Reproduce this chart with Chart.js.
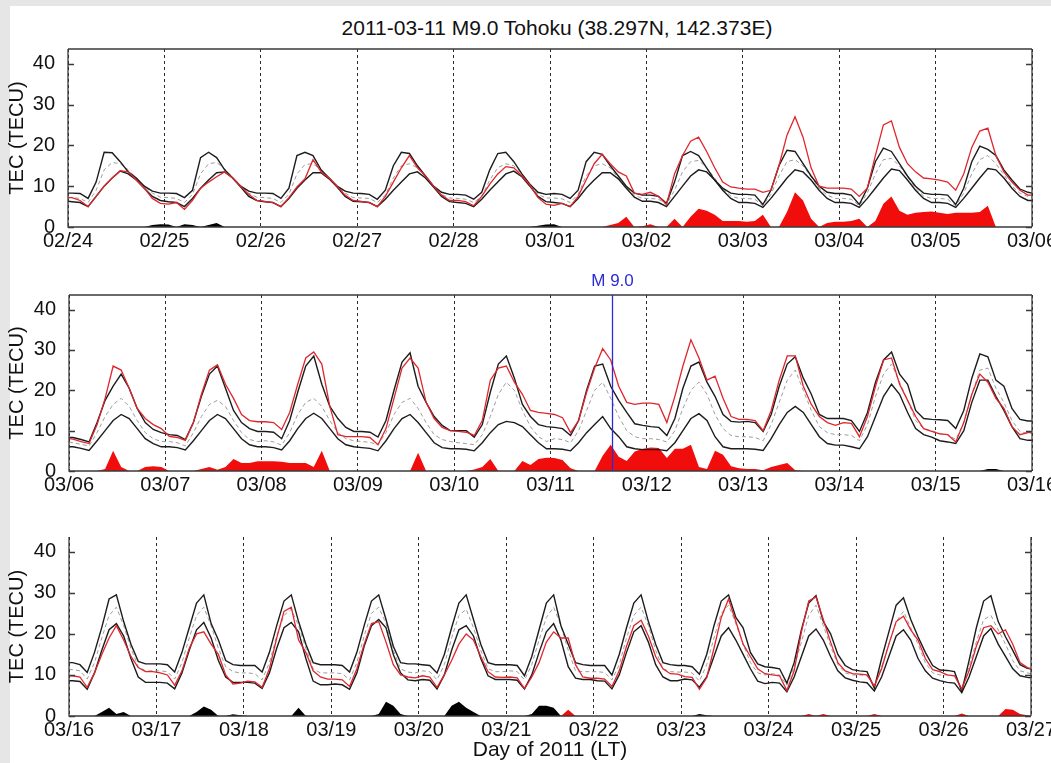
<!DOCTYPE html>
<html>
<head>
<meta charset="utf-8">
<title>Tohoku TEC</title>
<script src="https://cdn.jsdelivr.net/npm/chart.js"></script>
<style>
  html, body { margin: 0; padding: 0; overflow: hidden; }
  body { width: 1051px; height: 763px; background: #e6e6e6; position: relative; font-family: "Liberation Sans", Arial, sans-serif; }
  #sheet { position: absolute; left: 10px; top: 6px; width: 1041px; height: 757px; background: #fff; }
  #title { position: absolute; left: 0; top: 16px; width: 1114px; text-align: center; font-size: 21px; line-height: 24px; color: #111; }
  .panel { position: absolute; left: 0; }
</style>
</head>
<body>
<div id="sheet"></div>
<div id="title">2011-03-11 M9.0 Tohoku (38.297N, 142.373E)</div>
<div class="panel" style="top:0px"><canvas id="c1" width="1100" height="257"></canvas></div>
<div class="panel" style="top:270px"><canvas id="c2" width="1100" height="231"></canvas></div>
<div class="panel" style="top:520px"><canvas id="c3" width="1100" height="243"></canvas></div>
<script>
// day labels of each row
const days1 = ['02/24', '02/25', '02/26', '02/27', '02/28', '03/01', '03/02', '03/03', '03/04', '03/05', '03/06'];
const days2 = ['03/06', '03/07', '03/08', '03/09', '03/10', '03/11', '03/12', '03/13', '03/14', '03/15', '03/16'];
const days3 = ['03/16', '03/17', '03/18', '03/19', '03/20', '03/21', '03/22', '03/23', '03/24', '03/25', '03/26', '03/27'];
const yTicks = [0, 10, 20, 30, 40];
const yMax = 43.6;

// main shock, in days after 03/06 00 LT
const quakeDay = 5.635;
const quakeLabel = 'M 9.0';

// TEC samples: 00 LT, then every odd hour (01, 03 ... 23) of each day, then the closing 24 LT
// up = upper bound, lo = lower bound, med = median, tec = observed

const up1 = [8.3,
  8.3, 8.2, 7.0, 11.0, 18.3, 18.2, 16.0, 13.5, 12.0, 10.0, 8.8, 8.3,
  8.3, 8.2, 7.2, 9.0, 17.0, 18.3, 17.0, 14.0, 12.0, 10.0, 8.8, 8.3,
  8.3, 8.2, 7.0, 9.5, 17.5, 18.3, 17.5, 14.0, 12.0, 10.0, 8.8, 8.3,
  8.2, 8.0, 6.8, 9.0, 15.0, 18.3, 18.0, 15.0, 12.5, 10.0, 8.5, 8.0,
  8.0, 7.8, 6.8, 8.5, 14.0, 18.0, 18.3, 16.0, 13.0, 10.5, 8.5, 8.0,
  8.2, 8.0, 7.0, 9.0, 16.0, 18.3, 17.8, 15.0, 12.5, 10.0, 8.3, 7.8,
  7.8, 7.5, 5.8, 11.0, 17.5, 18.5, 17.5, 14.5, 11.5, 9.5, 8.3, 8.0,
  8.0, 7.8, 5.5, 9.0, 15.0, 18.8, 18.5, 15.5, 12.5, 10.0, 8.5, 8.2,
  8.2, 7.8, 5.5, 9.5, 16.0, 19.3, 18.5, 15.5, 12.5, 10.0, 8.3, 8.0,
  8.0, 7.8, 5.5, 9.5, 16.0, 19.8, 19.0, 17.5, 14.0, 11.5, 9.3, 8.5,
  8.3];
const lo1 = [6.3,
  6.2, 6.0, 5.0, 7.5, 10.0, 12.0, 13.7, 13.0, 11.5, 9.5, 7.5, 6.5,
  6.2, 6.0, 5.0, 7.0, 9.5, 11.5, 13.3, 13.5, 12.0, 9.8, 7.5, 6.5,
  6.2, 6.0, 5.0, 7.0, 9.5, 11.5, 13.3, 13.3, 11.8, 9.8, 7.5, 6.3,
  6.2, 6.0, 5.0, 6.8, 9.0, 11.0, 13.0, 13.5, 12.0, 9.8, 7.5, 6.2,
  6.0, 5.8, 5.0, 6.8, 9.0, 11.0, 13.0, 13.7, 12.3, 10.0, 7.5, 6.2,
  6.0, 5.8, 5.0, 7.0, 9.5, 11.5, 13.3, 13.3, 11.8, 9.5, 7.3, 6.3,
  6.3, 6.0, 5.0, 7.5, 10.0, 12.5, 14.0, 13.5, 11.5, 9.0, 7.0, 6.0,
  6.0, 5.8, 4.8, 7.0, 9.5, 12.0, 14.0, 13.5, 11.5, 9.0, 7.0, 6.0,
  6.0, 5.8, 4.8, 7.0, 9.5, 12.0, 14.2, 13.8, 11.5, 9.0, 7.0, 6.0,
  6.0, 5.8, 4.8, 7.0, 9.5, 12.0, 14.3, 14.0, 12.0, 9.5, 7.5, 6.5,
  6.5];
const med1 = [7.2,
  7.2, 7.0, 6.0, 9.0, 14.0, 15.8, 15.5, 14.0, 12.0, 10.0, 8.3, 7.3,
  7.2, 7.0, 6.0, 8.0, 13.0, 15.5, 15.8, 14.3, 12.0, 10.0, 8.3, 7.3,
  7.2, 7.0, 6.0, 8.0, 13.0, 15.3, 15.5, 14.0, 12.0, 10.0, 8.3, 7.2,
  7.1, 7.0, 6.0, 7.8, 12.0, 15.0, 15.5, 14.5, 12.3, 10.0, 8.0, 7.1,
  7.0, 6.8, 6.0, 7.5, 11.5, 14.5, 15.5, 15.0, 12.8, 10.2, 8.0, 7.1,
  7.1, 6.9, 6.0, 8.0, 12.5, 15.0, 15.5, 14.5, 12.0, 9.8, 7.8, 7.0,
  7.0, 6.8, 5.5, 9.0, 13.5, 16.0, 16.3, 14.5, 12.0, 9.3, 7.6, 7.0,
  7.0, 6.8, 5.2, 8.0, 12.5, 16.0, 16.5, 15.0, 12.3, 9.5, 7.8, 7.0,
  7.0, 6.8, 5.2, 8.3, 13.0, 16.5, 16.8, 15.0, 12.3, 9.5, 7.6, 7.0,
  7.0, 6.8, 5.2, 8.3, 13.0, 16.5, 17.5, 15.5, 12.8, 10.0, 8.3, 7.5,
  7.3];
const tec1 = [7.2,
  7.2, 6.5, 5.0, 7.5, 10.0, 12.0, 13.8, 13.5, 11.5, 9.5, 7.0, 5.8,
  5.6, 6.0, 4.3, 6.5, 9.5, 11.0, 12.3, 13.5, 12.0, 10.0, 8.0, 6.5,
  6.3, 6.0, 5.0, 7.2, 9.8, 11.8, 16.5, 13.5, 12.0, 10.0, 7.8, 6.5,
  6.3, 6.0, 5.0, 7.5, 11.0, 14.5, 17.5, 14.5, 12.5, 10.0, 7.8, 6.5,
  6.5, 6.2, 5.2, 7.5, 10.5, 13.0, 14.8, 14.5, 12.5, 10.3, 7.2, 5.6,
  5.3, 5.8, 5.0, 7.5, 11.5, 15.5, 17.8, 15.5, 13.5, 12.5, 8.3, 8.0,
  8.5, 7.5, 5.5, 13.0, 17.5, 21.0, 22.0, 18.5, 14.5, 11.0, 9.8, 9.5,
  9.3, 9.3, 8.5, 9.0, 15.0, 22.5, 27.0, 22.0, 14.5, 10.0, 9.5, 9.5,
  9.5, 9.3, 7.5, 9.5, 17.5, 25.0, 26.0, 19.5, 15.5, 13.5, 12.0, 11.8,
  11.5, 11.0, 9.0, 13.0, 19.5, 23.5, 24.2, 17.5, 13.5, 11.0, 9.0, 7.8,
  7.8];

const up2 = [8.3,
  8.3, 7.8, 7.2, 12.0, 17.5, 21.0, 24.0, 20.5, 15.5, 12.0, 10.3, 9.5,
  9.0, 8.8, 7.8, 12.0, 18.5, 24.0, 26.0, 20.5, 15.0, 12.0, 10.5, 9.8,
  9.8, 9.6, 8.0, 12.5, 19.5, 26.0, 28.5, 21.5, 16.0, 13.0, 10.8, 9.8,
  9.8, 9.6, 8.4, 12.5, 20.0, 27.0, 29.3, 21.0, 17.0, 13.5, 11.3, 10.0,
  10.0, 10.0, 8.4, 11.5, 19.5, 26.5, 28.5, 23.0, 16.5, 13.5, 11.5, 11.0,
  10.8, 10.5, 8.8, 12.5, 20.0, 26.0, 26.5, 21.0, 17.5, 14.5, 11.7, 11.3,
  11.0, 10.8, 8.8, 13.0, 20.5, 26.0, 27.0, 22.0, 18.5, 14.0, 12.3, 12.1,
  12.3, 12.0, 9.8, 14.0, 21.0, 26.5, 28.3, 23.0, 19.0, 14.0, 13.0, 13.0,
  13.0, 12.5, 9.8, 14.5, 22.0, 27.5, 29.5, 24.0, 21.5, 15.0, 13.0, 12.8,
  12.7, 12.5, 10.5, 15.0, 23.0, 29.0, 28.3, 22.5, 21.0, 15.5, 12.8, 12.4,
  12.4];
const lo2 = [6.0,
  6.0, 5.6, 5.1, 7.5, 10.0, 12.5, 14.0, 13.0, 10.5, 8.0, 6.8, 6.0,
  6.0, 5.8, 5.2, 7.5, 10.0, 12.5, 14.0, 13.0, 10.5, 8.0, 6.5, 6.0,
  6.0, 5.8, 5.2, 7.5, 10.5, 13.0, 14.3, 13.0, 10.5, 8.0, 6.5, 6.0,
  5.8, 5.6, 5.0, 7.5, 10.5, 13.0, 14.0, 12.0, 9.5, 7.0, 5.8, 5.5,
  5.5, 5.4, 5.0, 7.0, 9.5, 11.5, 12.3, 12.0, 11.0, 9.0, 7.0, 5.5,
  5.5, 5.4, 5.0, 7.0, 9.5, 11.5, 13.5, 10.5, 8.5, 6.0, 5.5, 5.3,
  5.3, 5.3, 5.0, 7.0, 10.0, 13.0, 14.2, 12.5, 8.5, 6.0, 5.5, 5.5,
  5.5, 5.4, 5.1, 8.0, 11.5, 14.5, 16.0, 14.5, 11.5, 8.5, 6.8, 6.4,
  6.4, 6.0, 5.5, 8.5, 13.5, 18.5, 21.5, 19.0, 14.5, 10.5, 9.0, 8.4,
  7.5, 7.2, 6.8, 10.0, 17.0, 22.5, 22.5, 18.5, 15.0, 11.0, 8.0, 7.6,
  7.6];
const med2 = [7.2,
  7.0, 6.6, 6.2, 9.5, 13.5, 16.5, 18.0, 16.0, 12.5, 9.5, 8.0, 7.3,
  7.3, 7.0, 6.2, 9.5, 13.5, 16.5, 17.5, 16.0, 12.5, 9.5, 7.8, 7.3,
  7.5, 7.2, 6.4, 9.5, 14.0, 17.0, 18.0, 16.0, 12.5, 9.5, 8.0, 7.5,
  7.3, 7.1, 6.5, 9.5, 14.0, 17.0, 18.0, 15.5, 12.0, 9.0, 7.8, 7.3,
  7.0, 6.8, 6.5, 9.0, 13.5, 19.0, 22.0, 20.0, 15.0, 11.0, 8.5, 7.3,
  8.0, 7.8, 7.0, 10.0, 15.0, 20.0, 22.0, 18.0, 13.5, 10.0, 8.5, 8.0,
  8.0, 7.8, 7.2, 10.0, 15.5, 20.0, 22.0, 19.0, 14.0, 10.5, 8.8, 8.5,
  8.5, 8.3, 7.5, 11.5, 17.0, 22.5, 25.0, 20.0, 15.0, 11.0, 9.5, 9.0,
  9.0, 8.8, 7.5, 11.5, 18.5, 24.0, 26.5, 22.0, 17.5, 12.5, 10.5, 10.0,
  9.3, 9.0, 7.8, 12.0, 19.0, 25.0, 25.5, 20.5, 17.0, 12.5, 9.8, 9.3,
  9.3];
const tec2 = [8.0,
  7.9, 7.3, 6.8, 11.5, 18.0, 26.0, 25.0, 20.5, 15.5, 13.0, 11.5, 10.5,
  8.6, 8.3, 7.6, 12.0, 19.0, 25.0, 26.3, 21.5, 18.0, 14.0, 12.5, 12.2,
  12.2, 12.0, 10.3, 14.5, 21.5, 28.0, 29.5, 26.5, 16.0, 9.0, 8.5, 8.5,
  8.5, 8.3, 6.5, 10.5, 18.0, 25.5, 28.0, 25.5, 17.0, 13.0, 10.8, 10.0,
  9.8, 9.6, 8.8, 12.5, 22.5, 25.5, 26.0, 22.0, 19.0, 15.0, 14.5, 14.3,
  14.0, 13.2, 9.5, 12.5, 19.5, 25.5, 30.3, 27.5, 21.0, 17.0, 16.5, 16.8,
  16.8, 16.5, 12.0, 18.5, 26.0, 32.5, 28.0, 22.5, 23.5, 18.0, 13.5, 12.8,
  12.8, 12.5, 10.0, 15.0, 22.5, 28.5, 28.5, 21.0, 16.5, 13.5, 12.0, 11.3,
  12.0, 11.8, 8.5, 13.5, 21.0, 27.5, 28.0, 21.5, 17.5, 13.5, 10.5, 9.8,
  9.2, 9.0, 7.2, 12.0, 19.0, 24.0, 22.0, 18.0, 15.5, 11.0, 9.0, 9.5,
  9.7];

const up3 = [13.0,
  13.0, 12.5, 10.6, 15.5, 21.6, 28.5, 29.5, 23.0, 17.5, 13.3, 12.7, 12.7,
  12.7, 12.5, 10.7, 15.5, 21.5, 27.5, 29.5, 22.5, 18.5, 13.5, 12.5, 12.3,
  12.3, 12.3, 10.7, 15.5, 22.0, 28.0, 29.5, 23.0, 17.5, 13.0, 12.5, 12.5,
  12.5, 12.3, 10.7, 15.5, 22.0, 28.0, 29.5, 23.5, 17.0, 13.0, 12.7, 12.7,
  12.5, 12.3, 10.5, 15.0, 21.5, 27.5, 29.5, 23.5, 17.5, 13.0, 12.5, 12.5,
  12.5, 12.3, 9.8, 14.5, 21.0, 27.5, 29.5, 22.0, 17.5, 13.0, 12.5, 12.3,
  12.3, 12.3, 10.0, 15.0, 21.5, 27.5, 29.5, 23.0, 17.5, 13.0, 12.5, 12.3,
  12.3, 12.0, 10.2, 15.0, 22.0, 28.0, 29.5, 24.0, 21.5, 15.5, 12.7, 12.0,
  11.8, 11.5, 8.0, 13.0, 21.0, 27.5, 29.3, 23.0, 20.0, 15.0, 12.3, 11.3,
  11.0, 10.8, 6.8, 14.0, 20.5, 27.0, 28.8, 23.5, 19.3, 15.5, 12.3, 11.2,
  11.1, 10.8, 6.0, 13.5, 21.5, 28.0, 29.3, 23.0, 19.3, 16.0, 12.5, 11.6,
  11.5];
const lo3 = [8.6,
  8.6, 8.4, 6.5, 10.5, 16.0, 21.0, 22.5, 19.5, 14.0, 9.5, 8.2, 8.2,
  8.2, 8.0, 6.6, 10.5, 16.0, 21.0, 22.8, 19.0, 13.5, 9.5, 8.2, 8.2,
  8.2, 8.0, 6.7, 10.5, 16.5, 21.5, 22.8, 20.5, 14.0, 8.5, 7.6, 7.6,
  7.8, 7.6, 6.5, 10.5, 17.0, 22.0, 23.5, 21.5, 15.0, 10.5, 8.8, 8.6,
  8.9, 8.7, 6.6, 10.0, 16.0, 21.0, 22.0, 19.5, 14.0, 9.8, 8.9, 8.9,
  8.9, 8.7, 6.6, 10.0, 15.5, 20.5, 22.5, 18.5, 12.0, 9.2, 8.9, 8.9,
  8.6, 8.5, 6.6, 10.0, 15.5, 20.5, 22.0, 18.0, 12.5, 9.5, 8.6, 8.6,
  9.0, 8.8, 7.0, 9.5, 14.5, 19.5, 21.5, 18.5, 15.0, 11.5, 8.5, 7.9,
  8.2, 8.0, 5.9, 9.5, 14.5, 19.5, 21.2, 18.5, 14.5, 11.0, 9.3, 8.7,
  8.3, 8.1, 6.1, 9.5, 14.5, 19.5, 21.0, 18.5, 14.0, 11.0, 9.2, 8.6,
  8.2, 8.0, 5.7, 9.5, 14.5, 19.5, 21.3, 17.5, 14.5, 11.5, 9.8, 9.4,
  9.3];
const med3 = [11.3,
  11.3, 11.0, 9.0, 13.0, 19.0, 24.5, 26.5, 22.0, 16.5, 12.0, 11.0, 11.0,
  11.0, 10.8, 9.0, 13.0, 19.0, 24.5, 26.5, 22.0, 16.5, 12.0, 10.8, 10.5,
  10.5, 10.3, 8.8, 13.0, 19.5, 24.5, 26.0, 22.0, 16.5, 11.5, 10.5, 10.5,
  10.5, 10.3, 8.8, 13.0, 19.5, 25.0, 26.5, 22.5, 16.0, 11.5, 10.7, 10.5,
  11.0, 10.8, 8.8, 12.5, 19.0, 24.5, 26.0, 21.5, 16.0, 11.5, 10.8, 10.8,
  11.0, 10.8, 8.8, 12.5, 18.5, 24.0, 26.5, 22.0, 16.0, 11.0, 10.8, 10.8,
  10.8, 10.6, 8.8, 12.5, 19.0, 24.5, 26.5, 22.0, 16.0, 11.5, 10.8, 10.7,
  10.7, 10.5, 8.5, 12.5, 19.0, 25.0, 27.0, 22.5, 17.5, 13.0, 10.5, 10.0,
  10.3, 10.0, 7.5, 12.0, 18.0, 24.5, 27.0, 22.0, 17.0, 12.5, 10.5, 10.0,
  10.0, 9.8, 7.2, 12.0, 17.5, 23.0, 25.5, 21.5, 17.5, 13.0, 10.5, 10.0,
  10.0, 9.8, 6.8, 12.0, 18.0, 23.5, 24.5, 21.0, 17.5, 13.5, 11.0, 10.5,
  10.3];
const tec3 = [9.8,
  9.8, 9.5, 7.0, 10.5, 15.0, 19.0, 22.0, 18.5, 14.5, 11.8, 10.8, 10.8,
  10.5, 10.0, 7.5, 11.0, 16.5, 20.0, 20.5, 17.5, 15.0, 10.0, 7.8, 8.0,
  8.5, 8.3, 7.0, 11.5, 19.0, 25.5, 26.5, 18.5, 15.5, 11.0, 9.5, 9.0,
  9.0, 8.8, 7.2, 11.5, 17.5, 22.5, 23.0, 18.0, 12.5, 10.0, 9.5, 9.3,
  9.8, 9.5, 7.0, 10.0, 13.5, 17.5, 20.0, 18.5, 14.5, 10.8, 9.5, 9.4,
  9.5, 9.3, 6.7, 9.5, 13.0, 18.0, 20.5, 19.0, 19.0, 12.5, 9.5, 9.2,
  9.2, 9.0, 7.2, 11.0, 17.0, 22.0, 23.3, 19.5, 14.5, 11.5, 10.3, 10.2,
  9.6, 9.4, 6.5, 9.3, 16.5, 24.0, 28.5, 23.0, 17.5, 14.5, 11.5, 10.3,
  10.0, 9.8, 6.2, 11.0, 20.5, 28.0, 29.0, 23.5, 18.0, 13.0, 11.0, 10.3,
  10.2, 10.0, 7.3, 11.5, 17.5, 23.0, 24.3, 21.0, 18.5, 14.0, 11.3, 10.8,
  10.0, 9.8, 6.6, 11.0, 17.0, 21.5, 22.0, 20.0, 21.0, 17.5, 13.0, 11.8,
  11.5];

const FONT = '"Liberation Sans", Arial, sans-serif';
const INK = '#111';

// box, plus the little inward ticks on both sides
const framePlugin = {
  id: 'frame',
  afterDatasetsDraw(chart, args, opts) {
    const { ctx, chartArea: a, scales: { y } } = chart;
    ctx.save();
    ctx.strokeStyle = '#3a3a3a';
    ctx.lineWidth = 1.3;
    ctx.beginPath();
    if (opts.top) {
      ctx.moveTo(a.left, a.top);
      ctx.lineTo(a.right, a.top);
    }
    ctx.moveTo(a.left, a.top);
    ctx.lineTo(a.left, a.bottom);
    ctx.lineTo(a.right, a.bottom);
    ctx.moveTo(a.right, a.top);
    ctx.lineTo(a.right, a.bottom);
    yTicks.forEach(v => {
      const py = Math.round(y.getPixelForValue(v)) + 0.5;
      ctx.moveTo(a.left, py);
      ctx.lineTo(a.left + 6, py);
      ctx.moveTo(a.right, py);
      ctx.lineTo(a.right - 6, py);
    });
    ctx.stroke();
    ctx.restore();
  }
};

// event marker for the main shock
const quakePlugin = {
  id: 'quake',
  afterDatasetsDraw(chart) {
    const { ctx, chartArea: a, scales: { x } } = chart;
    const px = Math.round(x.getPixelForValue(quakeDay)) + 0.5;
    ctx.save();
    ctx.strokeStyle = '#2b2bd8';
    ctx.lineWidth = 1.3;
    ctx.beginPath();
    ctx.moveTo(px, a.top);
    ctx.lineTo(px, a.bottom);
    ctx.stroke();
    ctx.fillStyle = '#2b2bd8';
    ctx.font = '17px ' + FONT;
    ctx.textAlign = 'center';
    ctx.textBaseline = 'bottom';
    ctx.fillText(quakeLabel, px, a.top - 5);
    ctx.restore();
  }
};

function makePanel(id, days, up, lo, med, tec, cfg) {
  const n = days.length - 1;
  const hours = [0, ...Array.from({ length: n * 12 }, (_, i) => 2 * i + 1), n * 24];
  const pts = vals => vals.map((v, i) => ({ x: hours[i] / 24, y: v }));
  // anomaly outside the bounds
  const above = tec.map((v, i) => Math.max(0, v - up[i]));
  const below = tec.map((v, i) => Math.max(0, lo[i] - v));

  return new Chart(document.getElementById(id), {
    type: 'line',
    data: {
      datasets: [
        { data: pts(tec), borderColor: '#e0262c', borderWidth: 1.3 },
        { data: pts(up), borderColor: '#1c1c1c', borderWidth: 1.4 },
        { data: pts(lo), borderColor: '#1c1c1c', borderWidth: 1.4 },
        { data: pts(med), borderColor: '#9c9c9c', borderWidth: 1, borderDash: [4, 3] },
        { data: pts(above), borderWidth: 0, borderColor: 'rgba(0,0,0,0)', backgroundColor: '#f20d0d', fill: 'origin' },
        { data: pts(below), borderWidth: 0, borderColor: 'rgba(0,0,0,0)', backgroundColor: '#000000', fill: 'origin' }
      ]
    },
    options: {
      responsive: false,
      animation: false,
      events: [],
      layout: { padding: { left: 0, right: 1100 - cfg.right, top: cfg.top, bottom: 0 } },
      elements: { point: { radius: 0 }, line: { tension: 0 } },
      plugins: {
        legend: { display: false },
        tooltip: { enabled: false },
        frame: { top: cfg.box }
      },
      scales: {
        x: {
          type: 'linear',
          min: 0,
          max: n,
          afterBuildTicks: s => { s.ticks = days.map((_, i) => ({ value: i })); },
          afterFit: s => { s.height = cfg.xh; s.paddingLeft = 0; s.paddingRight = 0; },
          ticks: {
            callback: v => days[v],
            font: { family: FONT, size: 20 },
            color: INK,
            padding: 2,
            maxRotation: 0,
            autoSkip: false
          },
          grid: { color: '#2a2a2a', lineWidth: 1, drawTicks: false },
          border: { display: false, dash: [3, 3] },
          title: {
            display: !!cfg.xTitle,
            text: cfg.xTitle || '',
            font: { family: FONT, size: 21 },
            color: INK,
            padding: { top: 0, bottom: 0 }
          }
        },
        y: {
          min: 0,
          max: yMax,
          afterBuildTicks: s => { s.ticks = yTicks.map(v => ({ value: v })); },
          afterFit: s => { s.width = cfg.left; },
          ticks: { font: { family: FONT, size: 20 }, color: INK, padding: 5 },
          grid: { display: false },
          border: { display: false },
          title: {
            display: true,
            text: 'TEC (TECU)',
            font: { family: FONT, size: 20 },
            color: INK,
            padding: { top: 5, bottom: 0 }
          }
        }
      }
    },
    plugins: cfg.quake ? [framePlugin, quakePlugin] : [framePlugin]
  });
}

makePanel('c1', days1, up1, lo1, med1, tec1, { left: 68, right: 1032, top: 49, xh: 30, box: true });
makePanel('c2', days2, up2, lo2, med2, tec2, { left: 69, right: 1032, top: 25, xh: 30, box: true, quake: true });
makePanel('c3', days3, up3, lo3, med3, tec3, { left: 69, right: 1031, top: 17, xh: 47, box: false, xTitle: 'Day of 2011 (LT)' });
</script>
</body>
</html>
